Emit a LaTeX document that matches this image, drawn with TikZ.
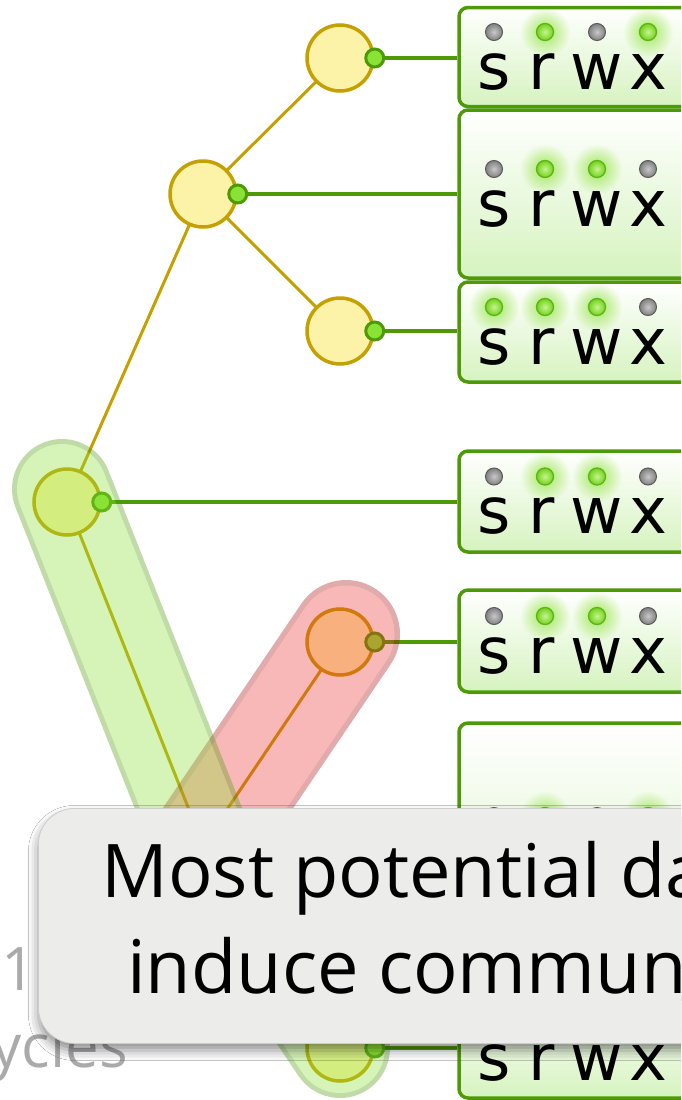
\documentclass[tikz,border=0pt]{standalone}
\usepackage{fontspec}
\setmainfont{Open Sans}
\newfontfamily\ledfont{DejaVu Sans}
\usetikzlibrary{shadows.blur,fadings}

\definecolor{gold}{HTML}{C4A000}
\definecolor{paleyellow}{HTML}{FCF3A8}
\definecolor{leaf}{HTML}{4E9A06}
\definecolor{lime}{HTML}{8AE234}
\definecolor{boxtint}{HTML}{D6F3BF}
\definecolor{hlred}{HTML}{EF2929}
\definecolor{hlredrim}{HTML}{A40000}
\definecolor{tipgray}{HTML}{ECECEB}
\definecolor{tipedge}{HTML}{CDCDCD}
\definecolor{faint}{HTML}{AAAAAA}
\definecolor{ledonrim}{HTML}{5CB515}
\definecolor{ledonhi}{HTML}{C4F590}
\definecolor{ledonlo}{HTML}{74D11C}
\definecolor{ledoffrim}{HTML}{5A5A5A}
\definecolor{ledoffhi}{HTML}{C8C8C8}
\definecolor{ledofflo}{HTML}{808080}

\tikzfading[name=glowfade, inner color=transparent!20, outer color=transparent!100]

\tikzset{
  treenode/.style={circle, inner sep=0pt, minimum size=66pt, draw=gold,
    line width=3.5pt, fill=paleyellow},
  port/.style={circle, inner sep=0pt, minimum size=18pt, draw=leaf,
    line width=3pt, fill=lime},
  treeedge/.style={draw=gold, line width=3pt},
  conn/.style={draw=leaf, line width=3.5pt},
  permframe/.style={rectangle, rounded corners=9pt, draw=leaf, line width=3.5pt,
    top color=white, bottom color=boxtint, minimum width=260pt, inner sep=0pt},
  lampon/.style={circle, inner sep=0pt, minimum size=17pt, draw=ledonrim,
    line width=1.3pt, inner color=ledonhi, outer color=ledonlo},
  lampoff/.style={circle, inner sep=0pt, minimum size=17pt, draw=ledoffrim,
    line width=1pt, inner color=ledoffhi, outer color=ledofflo},
  letter/.style={font=\ledfont\fontsize{64}{64}\selectfont, inner sep=0pt,
    anchor=base},
  highlight/.style={line cap=round, line join=round},
  faintlabel/.style={font=\fontsize{60}{60}\selectfont, text=faint, inner sep=0pt},
  tipbox/.style={rectangle, rounded corners=36pt, fill=tipgray, draw=tipedge,
    line width=0.8pt, inner sep=0pt,
    blur shadow={shadow xshift=0pt, shadow yshift=-7pt,
      shadow blur radius=10pt, shadow opacity=45}},
  tiptext/.style={font=\fontsize{74}{74}\selectfont, inner sep=0pt,
    anchor=base west},
}

% one permission lamp: name, x, y, state (1 = lit)
\newcommand{\lamp}[4]{%
  \ifnum#4=1
    \fill[lime, path fading=glowfade] (#2,#3) circle[radius=25pt];
    \node[lampon] (#1) at (#2,#3) {};
  \else
    \node[lampoff] (#1) at (#2,#3) {};
  \fi}

% permission box: name, centre y, height, states of s r w x
\newcommand{\permbox}[7]{%
  \node[permframe, minimum height=#3pt] (#1) at (589,#2) {};
  \lamp{#1-ls}{494}{#2-25}{#4}
  \lamp{#1-lr}{545}{#2-25}{#5}
  \lamp{#1-lw}{597}{#2-25}{#6}
  \lamp{#1-lx}{648}{#2-25}{#7}
  \node[letter] (#1-s) at (494,#2+32) {s};
  \node[letter] (#1-r) at (542,#2+32) {r};
  \node[letter] (#1-w) at (597,#2+32) {w};
  \node[letter] (#1-x) at (648,#2+32) {x};}

\begin{document}
\begin{tikzpicture}[x=1pt, y=-1pt]
  \useasboundingbox (0,0) rectangle (681,1100);
  \clip (0,0) rectangle (681,1100);
  \fill[white] (0,0) rectangle (681,1100);

  % permission boxes
  \permbox{b1}{57}{99}{0}{1}{0}{1}
  \permbox{b2}{194}{168}{0}{1}{1}{0}
  \permbox{b3}{332}{100}{1}{1}{1}{0}
  \permbox{b4}{501.5}{101}{0}{1}{1}{0}
  \permbox{b5}{641}{102}{0}{1}{1}{0}
  \node[permframe, minimum height=244pt] (b6) at (589,845) {};
  \lamp{b6-ls}{494}{816}{0}
  \lamp{b6-lr}{545}{816}{1}
  \lamp{b6-lw}{597}{816}{0}
  \lamp{b6-lx}{648}{816}{1}
  \permbox{b7}{1048.5}{99}{0}{1}{1}{0}

  % tree node centres and their output ports
  \coordinate (c0) at (67,502);
  \coordinate (c1) at (203,194);
  \coordinate (c2) at (340,58);
  \coordinate (c3) at (340,331);
  \coordinate (c4) at (203,845);
  \coordinate (c5) at (340,642);
  \coordinate (c6) at (340,1048);
  \foreach \k in {0,...,6} {
    \coordinate (q\k) at ([xshift=34.75pt]c\k);
  }

  % tree edges and port connectors, drawn before the nodes cover their ends
  \draw[treeedge] (c0) -- (c1);
  \draw[treeedge] (c0) -- (c4);
  \draw[treeedge] (c1) -- (c2);
  \draw[treeedge] (c1) -- (c3);
  \draw[treeedge] (c4) -- (c5);
  \draw[treeedge] (c4) -- (c6);
  \draw[conn] (q2) -- (q2 -| b1.west);
  \draw[conn] (q1) -- (q1 -| b2.west);
  \draw[conn] (q3) -- (q3 -| b3.west);
  \draw[conn] (q0) -- (q0 -| b4.west);
  \draw[conn] (q5) -- (q5 -| b5.west);
  \draw[conn] (q4) -- (q4 -| b6.west);
  \draw[conn] (q6) -- (q6 -| b7.west);

  % tree nodes and ports
  \foreach \k in {0,...,6} {
    \node[treenode] (n\k) at (c\k) {};
    \node[port] (p\k) at (q\k) {};
  }

  % highlighted paths
  \coordinate (rtail) at (346,634);
  \coordinate (gtail) at (62,489);
  \begin{scope}[transparency group, opacity=0.33]
    \draw[highlight, hlredrim, line width=108pt] (rtail) -- (n4.center);
    \draw[highlight, hlred, line width=97pt] (rtail) -- (n4.center);
  \end{scope}
  \begin{scope}[transparency group, opacity=0.35]
    \draw[highlight, leaf, line width=100pt] (gtail) -- (n4.center) -- (n6.center);
    \draw[highlight, lime, line width=90pt] (gtail) -- (n4.center) -- (n6.center);
  \end{scope}

  % axis labels behind the tooltip
  \node[faintlabel, anchor=base west] (count) at (1,990) {10};
  \node[faintlabel, anchor=base east] (unit) at (128,1067) {cycles};

  % tooltip
  \node[tipbox, anchor=north west, minimum width=710pt, minimum height=235pt]
    (tip) at (38,808) {};
  \node[tiptext] (tipline1) at (101,897) {Most potential da};
  \node[tiptext] (tipline2) at (127,993) {induce commun};
\end{tikzpicture}
\end{document}
